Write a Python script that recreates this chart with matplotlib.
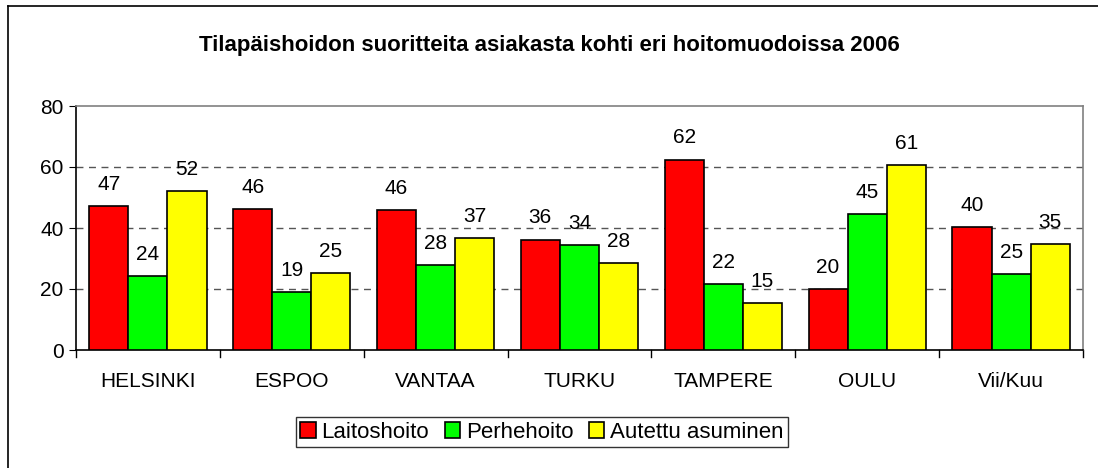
import matplotlib
matplotlib.use("Agg")
import matplotlib.pyplot as plt
import numpy as np
from matplotlib.lines import Line2D

plt.rcParams["font.family"] = ["Liberation Sans", "DejaVu Sans"]

cities = ["HELSINKI", "ESPOO", "VANTAA", "TURKU", "TAMPERE", "OULU", "Vii/Kuu"]
laitoshoito = [47.2, 46.1, 45.9, 36.2, 62.4, 20.0, 40.3]
perhehoito = [24.2, 19.1, 27.8, 34.4, 21.6, 44.6, 24.9]
autettu = [52.1, 25.1, 36.8, 28.4, 15.4, 60.6, 34.8]
series_names = ["Laitoshoito", "Perhehoito", "Autettu asuminen"]
colors = ["#ff0000", "#00ff00", "#ffff00"]

fig = plt.figure(figsize=(10.98, 4.68), dpi=100)
W, H = 1098, 468
ax = fig.add_axes([76 / W, 1 - 350 / H, (1083 - 76) / W, (350 - 106) / H])

x = np.arange(len(cities))
width = 0.272
for i, vals in enumerate([laitoshoito, perhehoito, autettu]):
    pos = x + (i - 1) * width
    ax.bar(pos, vals, width, color=colors[i], edgecolor="black", linewidth=1.2,
           label=series_names[i], zorder=3)
    for px, v in zip(pos, vals):
        ax.text(px, v + 4, f"{v:.0f}", ha="center", va="bottom", fontsize=15)

ax.set_xlim(-0.5, len(cities) - 0.5)
ax.set_ylim(0, 80)
ax.set_yticks([0, 20, 40, 60, 80])
ax.tick_params(axis="y", labelsize=15, length=5, direction="out", pad=4)
for yv in [20, 40, 60]:
    ax.axhline(yv, color="#555555", linestyle=(0, (5, 4)), linewidth=1.0, zorder=1)

ax.set_xticks(x)
ax.set_xticklabels(cities, fontsize=15)
ax.tick_params(axis="x", length=0, pad=16)
for b in np.arange(-0.5, len(cities), 1.0):
    ax.add_line(Line2D([b, b], [0, -2.2], color="black", linewidth=1.0,
                       clip_on=False, transform=ax.transData))

ax.spines["left"].set_color("black")
ax.spines["bottom"].set_color("black")
ax.spines["top"].set_color("#808080")
ax.spines["right"].set_color("#808080")
for s in ax.spines.values():
    s.set_linewidth(1.2)

fig.text(549 / W, 1 - 45 / H, "Tilapäishoidon suoritteita asiakasta kohti eri hoitomuodoissa 2006",
         ha="center", va="center", fontsize=16, fontweight="bold")

leg = fig.legend(loc="center", bbox_to_anchor=(542 / W, 1 - 432 / H), ncol=3,
                 fontsize=16, frameon=True, fancybox=False, edgecolor="black",
                 handlelength=0.7, handleheight=0.7, handletextpad=0.25,
                 columnspacing=0.7, borderpad=0.2, borderaxespad=0)
leg.get_frame().set_linewidth(1.0)

# outer chart border (left and top visible)
fig.add_artist(Line2D([8 / W, 8 / W], [0, 1 - 6 / H], color="black", linewidth=1.2,
                      transform=fig.transFigure))
fig.add_artist(Line2D([8 / W, 1], [1 - 6 / H, 1 - 6 / H], color="black", linewidth=1.2,
                      transform=fig.transFigure))

fig.savefig("out.png", dpi=100)
